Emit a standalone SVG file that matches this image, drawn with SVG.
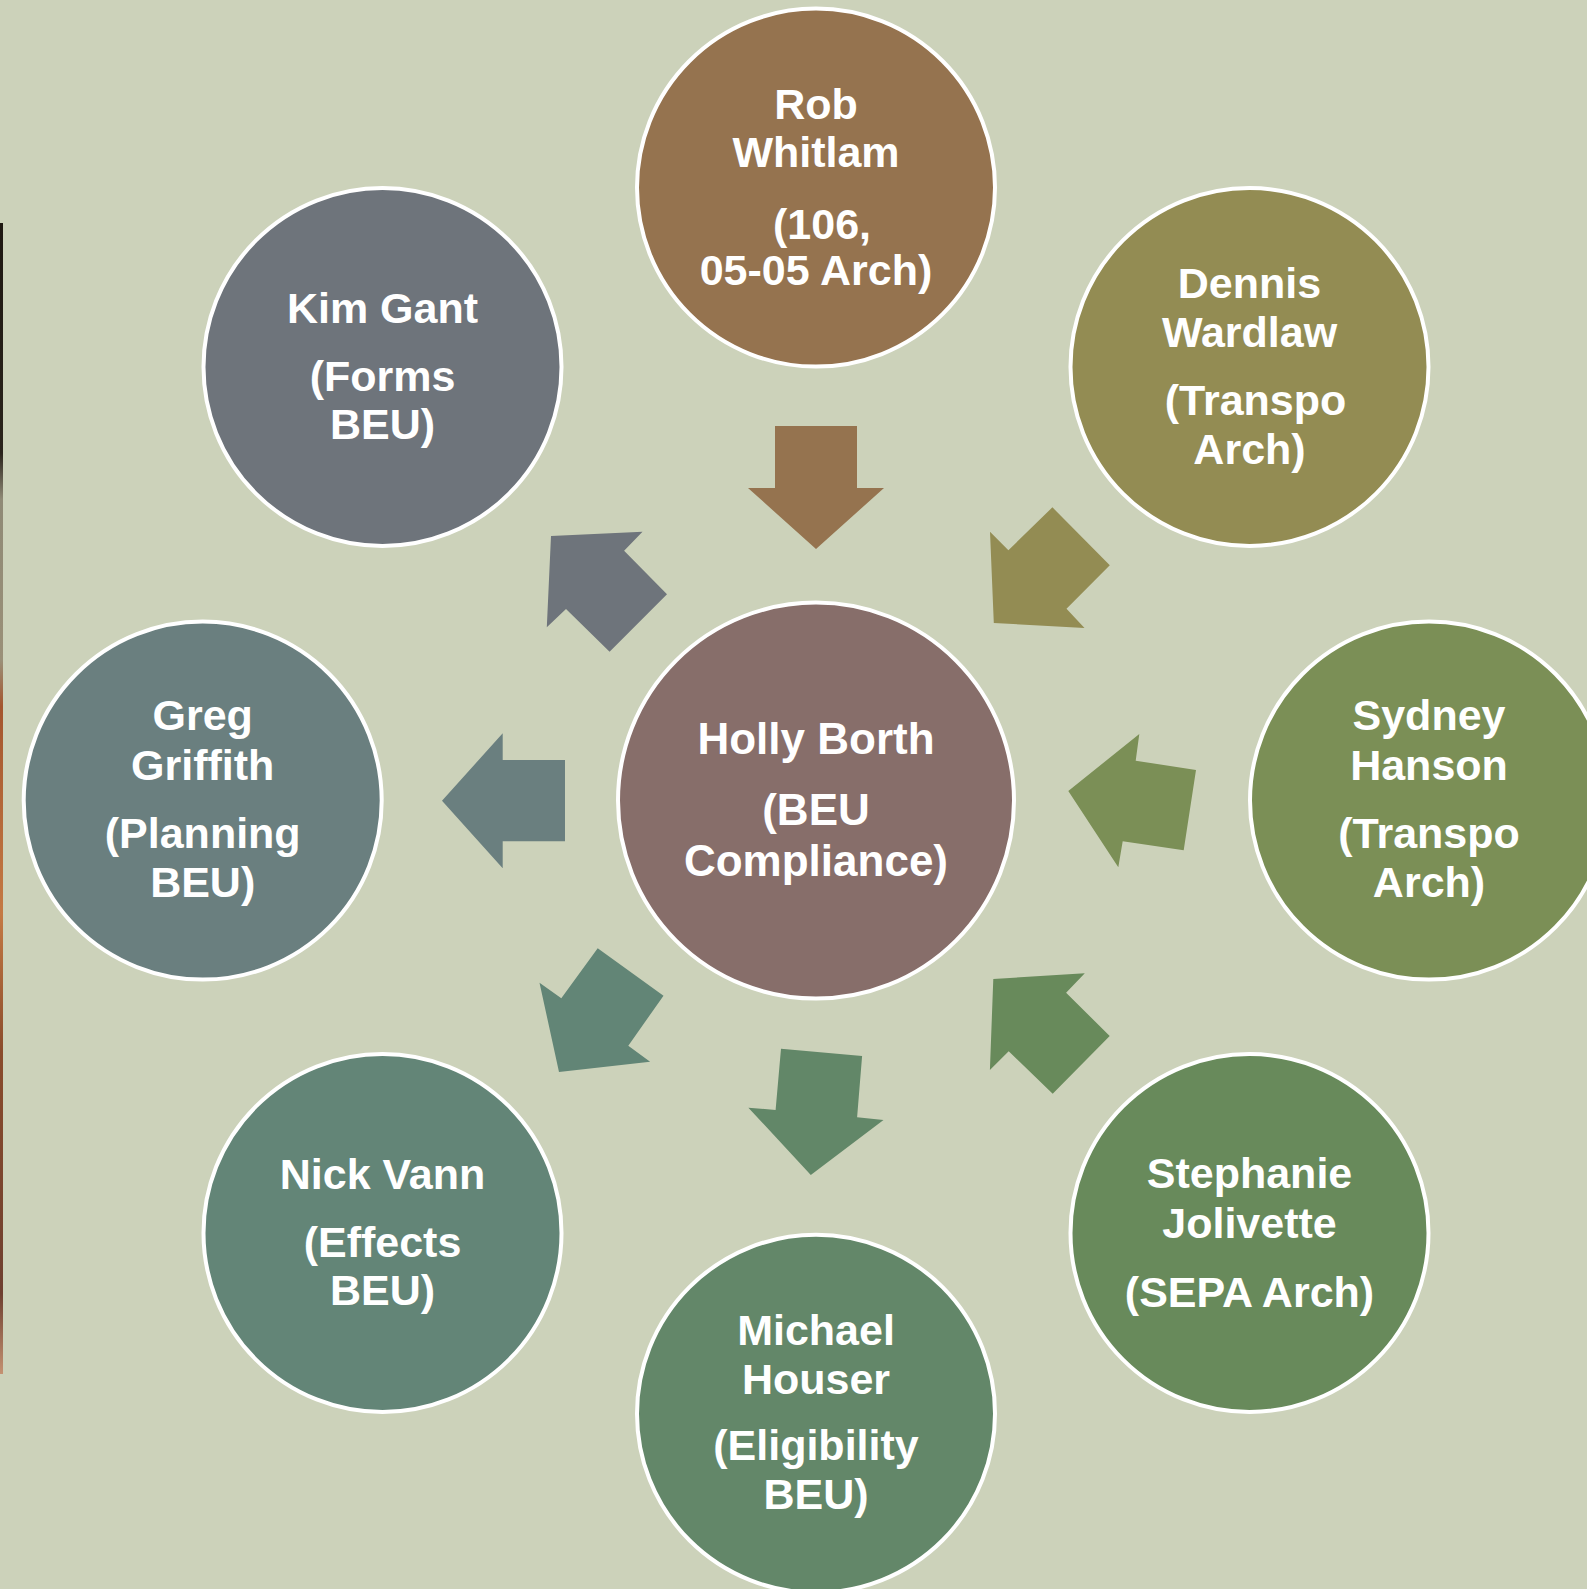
<svg xmlns="http://www.w3.org/2000/svg" width="1587" height="1589" viewBox="0 0 1587 1589">
  <defs>
    <linearGradient id="strip" x1="0" y1="0" x2="0" y2="1">
      <stop offset="0" stop-color="#1e1812"/>
      <stop offset="0.2" stop-color="#2a241c"/>
      <stop offset="0.24" stop-color="#8f8a76"/>
      <stop offset="0.38" stop-color="#9a9078"/>
      <stop offset="0.42" stop-color="#a4562e"/>
      <stop offset="0.6" stop-color="#c47a44"/>
      <stop offset="0.72" stop-color="#8a4c2c"/>
      <stop offset="0.93" stop-color="#6e4030"/>
      <stop offset="1" stop-color="#c49272"/>
    </linearGradient>
  </defs>
  <style>
    .node circle { stroke: #ffffff; stroke-width: 4; }
    .node text { fill: #ffffff; font-family: "Liberation Sans", Arial, sans-serif; font-weight: bold; font-size: 43px; text-anchor: middle; }
    .node.center text { font-size: 44px; }
  </style>
  <rect x="0" y="0" width="1587" height="1589" fill="#CCD2BA"/>
  <rect x="0" y="223" width="3" height="1151" fill="url(#strip)"/>

  <g id="connectors">
    <polygon id="arrow-rob" fill="#95734F" points="775,426 857,426 857,488 884,488 816,549 748,488 775,488"/>
    <polygon id="arrow-dennis" fill="#938C53" points="1052.4,507.3 1109.8,565.3 1066.5,608.7 1084.5,628 993.8,623 990,531.7 1008.4,550.3"/>
    <polygon id="arrow-sydney" fill="#7B8F56" points="1068.3,791 1139.3,734 1135.7,760.7 1196,770 1183.7,850.3 1122.7,841.3 1118.3,867.3"/>
    <polygon id="arrow-stephanie" fill="#688A5B" points="993.3,979 1084.8,973.3 1066.1,992.7 1109.7,1036 1052.7,1093.7 1008.7,1051.3 989.9,1070"/>
    <polygon id="arrow-michael" fill="#628768" points="781,1048.7 862.1,1056 857.1,1117.3 883.5,1120 810.8,1175 748.4,1107.7 775.6,1110"/>
    <polygon id="arrow-nick" fill="#628576" points="597.7,948.3 663.5,995.7 628.3,1045.7 650.1,1061.7 559,1072 539.5,982.7 561.3,998.3"/>
    <polygon id="arrow-greg" fill="#6A7F7F" points="442,800.7 502.7,733.3 502.7,760 565,760 565,841.3 502.7,841.3 502.7,868.3"/>
    <polygon id="arrow-kim" fill="#6E747B" points="551,536 642.5,531.7 624.1,550.7 667,594.3 609.6,651.7 566,609 546.8,627.3"/>
  </g>

  <g id="node-center" class="node center">
    <circle cx="816" cy="800.6" r="198" fill="#876E6A"/>
    <text x="816" y="754">Holly Borth</text>
    <text x="816" y="825">(BEU</text>
    <text x="816" y="876">Compliance)</text>
  </g>

  <g id="node-rob" class="node">
    <circle cx="816" cy="187.6" r="179" fill="#95734F"/>
    <text x="816" y="119">Rob</text>
    <text x="816" y="167">Whitlam</text>
    <text x="822" y="239">(106,</text>
    <text x="816" y="285">05-05 Arch)</text>
  </g>

  <g id="node-dennis" class="node">
    <circle cx="1249.5" cy="367" r="179" fill="#938C53"/>
    <text x="1249.5" y="298">Dennis</text>
    <text x="1249.5" y="347">Wardlaw</text>
    <text x="1255.5" y="415">(Transpo</text>
    <text x="1249.5" y="464">Arch)</text>
  </g>

  <g id="node-sydney" class="node">
    <circle cx="1429" cy="800.6" r="179" fill="#7B8F56"/>
    <text x="1429" y="730">Sydney</text>
    <text x="1429" y="780">Hanson</text>
    <text x="1429" y="848">(Transpo</text>
    <text x="1429" y="897">Arch)</text>
  </g>

  <g id="node-stephanie" class="node">
    <circle cx="1249.5" cy="1233" r="179" fill="#688A5B"/>
    <text x="1249.5" y="1188">Stephanie</text>
    <text x="1249.5" y="1238">Jolivette</text>
    <text x="1249.5" y="1307">(SEPA Arch)</text>
  </g>

  <g id="node-michael" class="node">
    <circle cx="816" cy="1413.7" r="179" fill="#638769"/>
    <text x="816" y="1345">Michael</text>
    <text x="816" y="1394">Houser</text>
    <text x="816" y="1460">(Eligibility</text>
    <text x="816" y="1509">BEU)</text>
  </g>

  <g id="node-nick" class="node">
    <circle cx="382.5" cy="1233" r="179" fill="#638577"/>
    <text x="382.5" y="1189">Nick Vann</text>
    <text x="382.5" y="1257">(Effects</text>
    <text x="382.5" y="1305">BEU)</text>
  </g>

  <g id="node-greg" class="node">
    <circle cx="202.7" cy="800.6" r="179" fill="#6A7F7F"/>
    <text x="202.7" y="730">Greg</text>
    <text x="202.7" y="780">Griffith</text>
    <text x="202.7" y="848">(Planning</text>
    <text x="202.7" y="897">BEU)</text>
  </g>

  <g id="node-kim" class="node">
    <circle cx="382.5" cy="367" r="179" fill="#6E747B"/>
    <text x="382.5" y="323">Kim Gant</text>
    <text x="382.5" y="391">(Forms</text>
    <text x="382.5" y="439">BEU)</text>
  </g>
</svg>
